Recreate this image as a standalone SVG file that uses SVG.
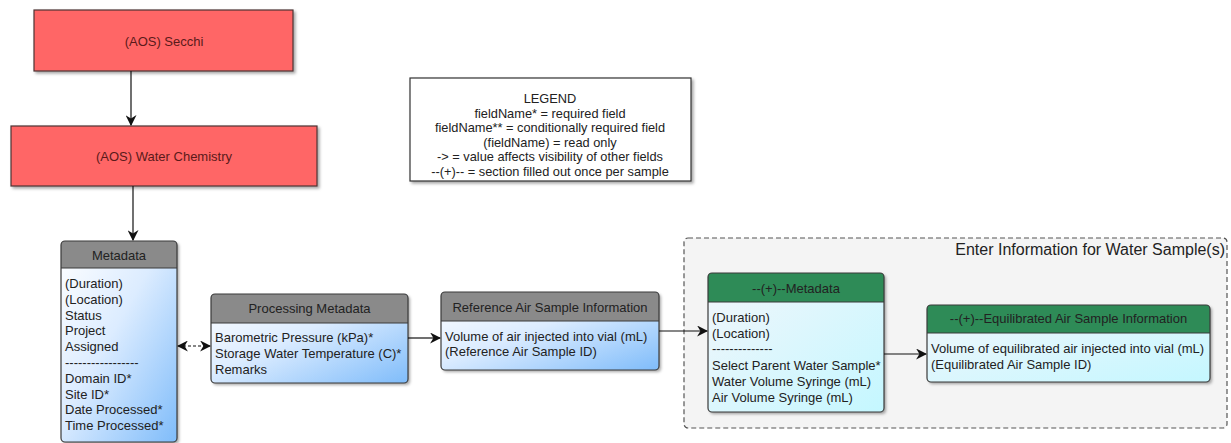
<svg xmlns="http://www.w3.org/2000/svg" width="1231" height="443" viewBox="0 0 1231 443">
<style>
text{font-family:"Liberation Sans",Arial,sans-serif;font-size:13px;fill:#222}
.red{fill:#ff6666;stroke:#4d3333;stroke-width:1.2}
.redt{fill:#5a1a1a;text-anchor:middle}
.hd{fill:#8a8a8a}
.gh{fill:#2e8b57}
.box{stroke:#3a3a3a;stroke-width:1.2;fill:none}
.ht{text-anchor:middle}
.lg{text-anchor:middle;font-size:12.8px}
.conn{stroke:#111;stroke-width:1.2;fill:none}
</style>
<defs>
<linearGradient id="blue" x1="0" y1="0" x2="1" y2="1">
<stop offset="0" stop-color="#ffffff"/>
<stop offset="0.45" stop-color="#dcecff"/>
<stop offset="1" stop-color="#7fbcfa"/>
</linearGradient>
<linearGradient id="cyan" x1="0" y1="0" x2="1" y2="1">
<stop offset="0" stop-color="#f3f6fb"/>
<stop offset="1" stop-color="#c4f7ff"/>
</linearGradient>
<filter id="sh" x="-10%" y="-10%" width="130%" height="130%">
<feDropShadow dx="2" dy="2" stdDeviation="1.5" flood-color="#000" flood-opacity="0.35"/>
</filter>
<marker id="ah" viewBox="0 0 10 10" refX="9" refY="5" markerWidth="11" markerHeight="11" markerUnits="userSpaceOnUse" orient="auto-start-reverse">
<path d="M0,0 L10,5 L0,10 L3,5 Z" fill="#111"/>
</marker>
</defs>
<rect width="1231" height="443" fill="#fff"/>

<g id="container">
<rect x="684" y="238" width="543" height="190" rx="4" fill="#f4f4f4" stroke="#555" stroke-width="1.2" stroke-dasharray="5,3"/>
<text x="1225" y="255" text-anchor="end" style="font-size:16px">Enter Information for Water Sample(s)</text>
</g>

<g id="secchi">
<rect class="red" x="34" y="10" width="259" height="61" filter="url(#sh)"/>
<text class="redt" x="164" y="46">(AOS) Secchi</text>
</g>

<g id="waterchem">
<rect class="red" x="11" y="126" width="306" height="60" filter="url(#sh)"/>
<text class="redt" x="164" y="161">(AOS) Water Chemistry</text>
</g>

<g id="legend">
<rect x="410" y="78" width="281" height="103" fill="#fff" stroke="#333" stroke-width="1.2" filter="url(#sh)"/>
<text class="lg" x="550" y="103">LEGEND</text>
<text class="lg" x="550" y="117.5">fieldName* = required field</text>
<text class="lg" x="550" y="132">fieldName** = conditionally required field</text>
<text class="lg" x="550" y="146.5">(fieldName) = read only</text>
<text class="lg" x="550" y="161">-&gt; = value affects visibility of other fields</text>
<text class="lg" x="550" y="175.5">--(+)-- = section filled out once per sample</text>
</g>

<g id="metadata">
<rect x="61" y="241" width="116" height="201" rx="4" fill="url(#blue)" filter="url(#sh)"/>
<path class="hd" d="M61,268 V245 a4,4 0 0 1 4,-4 H173 a4,4 0 0 1 4,4 V268 Z"/>
<rect class="box" x="61" y="241" width="116" height="201" rx="4"/>
<line x1="61" y1="268" x2="177" y2="268" stroke="#3a3a3a" stroke-width="1.2"/>
<text class="ht" x="119" y="260">Metadata</text>
<text x="65" y="288">(Duration)</text>
<text x="65" y="303.8">(Location)</text>
<text x="65" y="319.6">Status</text>
<text x="65" y="335.4">Project</text>
<text x="65" y="351.2">Assigned</text>
<text x="65" y="367">-----------------</text>
<text x="65" y="382.8">Domain ID*</text>
<text x="65" y="398.6">Site ID*</text>
<text x="65" y="414.4">Date Processed*</text>
<text x="65" y="430.2">Time Processed*</text>
</g>

<g id="processing">
<rect x="211" y="294" width="197" height="89" rx="4" fill="url(#blue)" filter="url(#sh)"/>
<path class="hd" d="M211,323 V298 a4,4 0 0 1 4,-4 H404 a4,4 0 0 1 4,4 V323 Z"/>
<rect class="box" x="211" y="294" width="197" height="89" rx="4"/>
<line x1="211" y1="323" x2="408" y2="323" stroke="#3a3a3a" stroke-width="1.2"/>
<text class="ht" x="309.5" y="313">Processing Metadata</text>
<text x="215" y="341.5">Barometric Pressure (kPa)*</text>
<text x="215" y="357.5">Storage Water Temperature (C)*</text>
<text x="215" y="373.5">Remarks</text>
</g>

<g id="refair">
<rect x="441" y="292" width="218" height="78" rx="4" fill="url(#blue)" filter="url(#sh)"/>
<path class="hd" d="M441,321 V296 a4,4 0 0 1 4,-4 H655 a4,4 0 0 1 4,4 V321 Z"/>
<rect class="box" x="441" y="292" width="218" height="78" rx="4"/>
<line x1="441" y1="321" x2="659" y2="321" stroke="#3a3a3a" stroke-width="1.2"/>
<text class="ht" x="550" y="311.5">Reference Air Sample Information</text>
<text x="445" y="340.5">Volume of air injected into vial (mL)</text>
<text x="445" y="356">(Reference Air Sample ID)</text>
</g>

<g id="greenmeta">
<rect x="708" y="273" width="176" height="139" rx="4" fill="url(#cyan)" filter="url(#sh)"/>
<path class="gh" d="M708,302 V277 a4,4 0 0 1 4,-4 H880 a4,4 0 0 1 4,4 V302 Z"/>
<rect class="box" x="708" y="273" width="176" height="139" rx="4"/>
<line x1="708" y1="302" x2="884" y2="302" stroke="#3a3a3a" stroke-width="1.2"/>
<text class="ht" x="796" y="293">--(+)--Metadata</text>
<text x="712" y="321.5">(Duration)</text>
<text x="712" y="337.5">(Location)</text>
<text x="712" y="353">--------------</text>
<text x="712" y="369.5">Select Parent Water Sample*</text>
<text x="712" y="385.5">Water Volume Syringe (mL)</text>
<text x="712" y="401.5">Air Volume Syringe (mL)</text>
</g>

<g id="equil">
<rect x="927" y="305" width="283" height="77" rx="4" fill="url(#cyan)" filter="url(#sh)"/>
<path class="gh" d="M927,333 V309 a4,4 0 0 1 4,-4 H1206 a4,4 0 0 1 4,4 V333 Z"/>
<rect class="box" x="927" y="305" width="283" height="77" rx="4"/>
<line x1="927" y1="333" x2="1210" y2="333" stroke="#3a3a3a" stroke-width="1.2"/>
<text class="ht" x="1068.5" y="323">--(+)--Equilibrated Air Sample Information</text>
<text x="931" y="352.5">Volume of equilibrated air injected into vial (mL)</text>
<text x="931" y="368.5">(Equilibrated Air Sample ID)</text>
</g>

<g id="connectors">
<line class="conn" x1="131" y1="71" x2="131" y2="125" marker-end="url(#ah)"/>
<line class="conn" x1="133" y1="186" x2="133" y2="240" marker-end="url(#ah)"/>
<line class="conn" x1="178" y1="346" x2="210" y2="346" stroke-dasharray="3,2" marker-start="url(#ah)" marker-end="url(#ah)"/>
<line class="conn" x1="408" y1="338" x2="440" y2="338" marker-end="url(#ah)"/>
<line class="conn" x1="659" y1="331" x2="707" y2="331" marker-end="url(#ah)"/>
<line class="conn" x1="884" y1="354" x2="926" y2="354" marker-end="url(#ah)"/>
</g>
</svg>
